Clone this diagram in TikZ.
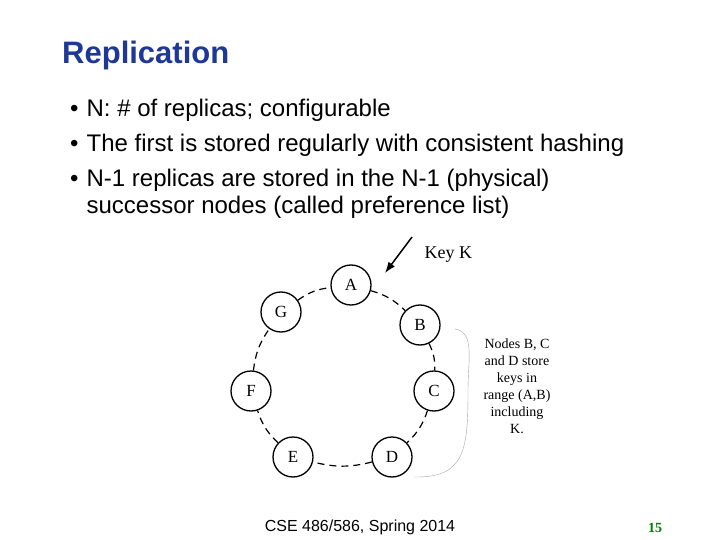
\documentclass[tikz,border=0pt]{standalone}
\usepackage{fontspec}
\setmainfont{Liberation Sans}
\newfontfamily\tms{Liberation Serif}
\usetikzlibrary{arrows.meta}
\definecolor{ttl}{RGB}{31,56,150}
\definecolor{grn}{RGB}{0,128,0}
\begin{document}
\begin{tikzpicture}[x=1pt,y=-1pt,
  ring/.style={circle,draw,line width=1.3pt,minimum size=40pt,inner sep=0pt,font=\tms\fontsize{17}{17}\selectfont},
  link/.style={dash pattern=on 7pt off 5pt,line width=1.2pt,bend left=14}]
\useasboundingbox (0,0) rectangle (720,540);
\fill[white] (0,0) rectangle (720,540);
\node[anchor=west,text=ttl,font=\bfseries\fontsize{31}{31}\selectfont,inner sep=0pt] (title) at (62,55) {Replication};
\node[anchor=west,font=\fontsize{24}{24}\selectfont,inner sep=0pt] (b1) at (70,110) {\textbullet\hspace{8pt}N: \# of replicas; configurable};
\node[anchor=west,font=\fontsize{24}{24}\selectfont,inner sep=0pt] (b2) at (70,145) {\textbullet\hspace{8pt}The first is stored regularly with consistent hashing};
\node[anchor=west,font=\fontsize{24}{24}\selectfont,inner sep=0pt] (b3) at (70,180) {\textbullet\hspace{8pt}N-1 replicas are stored in the N-1 (physical)};
\node[anchor=west,font=\fontsize{24}{24}\selectfont,inner sep=0pt] (b4) at (70,207) {\phantom{\textbullet}\hspace{8pt}successor nodes (called preference list)};
\node[ring] (A) at (351,285) {A};
\node[ring] (B) at (420,325) {B};
\node[ring] (C) at (434,391) {C};
\node[ring] (D) at (392,457) {D};
\node[ring] (E) at (293,457) {E};
\node[ring] (F) at (251,391) {F};
\node[ring] (G) at (281,312) {G};
\draw[link] (A) to (B);
\draw[link] (B) to (C);
\draw[link] (C) to (D);
\draw[link] (D) to (E);
\draw[link] (E) to (F);
\draw[link] (F) to (G);
\draw[link] (G) to (A);
\coordinate (k0) at (412,237);
\coordinate (k1) at (385,273);
\draw[line width=1.5pt,-{Latex[length=11pt,width=8pt]}] (k0) -- (k1);
\node[anchor=west,font=\tms\fontsize{18}{18}\selectfont] (key) at (421,255) {Key K};
\coordinate (q0) at (455,329);
\coordinate (q1) at (414,477);
\draw[gray!70,thin] (q0) .. controls (475,332) and (468,360) .. (468,390) .. controls (468,450) and (465,478) .. (q1);
\node[align=center,font=\tms\fontsize{14}{17}\selectfont] (note) at (517,386) {Nodes B, C\\and D store\\keys in\\range (A,B)\\including\\K.};
\node[font=\fontsize{16}{16}\selectfont] (foot) at (360,527) {CSE 486/586, Spring 2014};
\node[text=grn,font=\tms\bfseries\fontsize{14}{14}\selectfont] (num) at (655,528) {15};
\end{tikzpicture}
\end{document}
